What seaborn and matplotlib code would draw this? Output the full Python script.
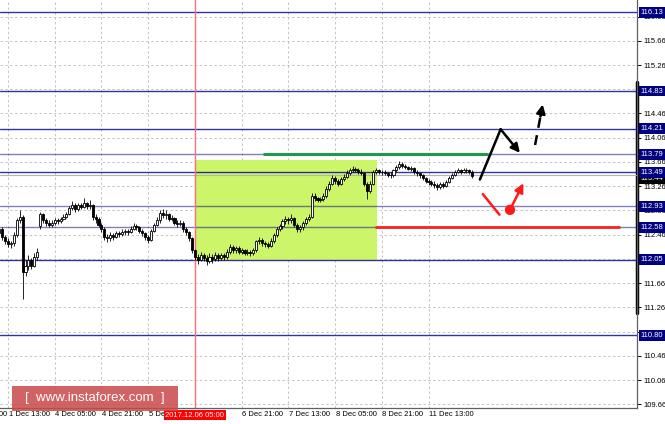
import numpy as np
import pandas as pd
import seaborn as sns
import matplotlib.pyplot as plt
from matplotlib.patches import Rectangle
from matplotlib.transforms import blended_transform_factory

sns.set_style("white")
plt.rcParams['font.family'] = ['Liberation Sans', 'DejaVu Sans']

# hourly USDJPY candles, bar 0 = 1 Dec 13:00 (weekends skipped)
first_bar = -3
first_open = 112.48
gap_opens = {11: 112.60, 131: 113.44}

closes = [
    112.55, 112.42, 112.35, 112.30, 112.32, 112.45, 112.70, 112.75, 111.85, 111.95, 112.05, 111.95, 112.10, 112.18,
    112.80, 112.70, 112.65, 112.62, 112.65, 112.70, 112.68, 112.72, 112.76, 112.80,
    112.90, 112.95, 112.88, 112.95, 112.92, 112.98, 112.93, 112.95, 112.75, 112.72,
    112.62, 112.55, 112.42, 112.40, 112.45, 112.42, 112.48, 112.47, 112.50, 112.52,
    112.50, 112.56, 112.60, 112.58, 112.52, 112.48, 112.42, 112.38, 112.52, 112.62,
    112.70, 112.82, 112.78, 112.80, 112.72, 112.74, 112.66, 112.64, 112.65, 112.55,
    112.50, 112.40, 112.20,
    112.10, 112.05, 112.12, 112.08, 112.02, 112.10, 112.06, 112.12, 112.08, 112.12,
    112.10, 112.18, 112.25, 112.20, 112.24, 112.18, 112.20, 112.16, 112.18, 112.15,
    112.20, 112.35, 112.38, 112.33, 112.30, 112.28, 112.36, 112.45, 112.55, 112.60,
    112.68, 112.72, 112.70, 112.74, 112.62, 112.55, 112.58, 112.65, 112.72, 112.76,
    113.10, 113.06, 113.04, 113.05, 113.10, 113.22, 113.30, 113.40, 113.35, 113.30,
    113.38, 113.42, 113.48, 113.52, 113.55, 113.53, 113.50, 113.48, 113.30, 113.18,
    113.30, 113.50, 113.52,
    113.50, 113.49, 113.47, 113.45, 113.44, 113.52, 113.58, 113.62, 113.60, 113.57,
    113.55, 113.56, 113.50, 113.47, 113.44, 113.40, 113.35, 113.33, 113.30, 113.28,
    113.25, 113.30, 113.27, 113.33, 113.40, 113.45, 113.50, 113.52, 113.50, 113.53,
    113.52, 113.50, 113.43,
]
highs = [
    112.60, 112.58, 112.45, 112.40, 112.36, 112.50, 112.74, 112.86, 112.78, 112.05, 112.12, 112.08, 112.15, 112.24,
    112.84, 112.82, 112.74, 112.70, 112.70, 112.74, 112.74, 112.76, 112.80, 112.84,
    112.94, 113.02, 112.98, 112.99, 112.98, 113.06, 113.00, 113.03, 112.96, 112.80,
    112.76, 112.66, 112.58, 112.47, 112.50, 112.48, 112.52, 112.52, 112.55, 112.56,
    112.56, 112.60, 112.65, 112.64, 112.60, 112.55, 112.50, 112.45, 112.56, 112.66,
    112.76, 112.86, 112.88, 112.86, 112.82, 112.78, 112.76, 112.70, 112.70, 112.68,
    112.58, 112.52, 112.42,
    112.22, 112.14, 112.18, 112.16, 112.12, 112.16, 112.14, 112.17, 112.15, 112.16,
    112.15, 112.22, 112.30, 112.29, 112.28, 112.27, 112.24, 112.23, 112.22, 112.21,
    112.24, 112.38, 112.42, 112.40, 112.36, 112.34, 112.40, 112.48, 112.58, 112.64,
    112.72, 112.77, 112.76, 112.80, 112.76, 112.66, 112.62, 112.68, 112.76, 112.80,
    113.14, 113.14, 113.09, 113.08, 113.14, 113.26, 113.34, 113.44, 113.43, 113.38,
    113.41, 113.46, 113.52, 113.56, 113.59, 113.58, 113.56, 113.54, 113.50, 113.33,
    113.34, 113.53, 113.56,
    113.55, 113.53, 113.52, 113.50, 113.49, 113.55, 113.61, 113.67, 113.66, 113.62,
    113.60, 113.59, 113.57, 113.53, 113.50, 113.46, 113.42, 113.38, 113.36, 113.34,
    113.31, 113.33, 113.33, 113.36, 113.43, 113.48, 113.53, 113.56, 113.55, 113.56,
    113.56, 113.55, 113.52,
]
lows = [
    112.45, 112.38, 112.30, 112.25, 112.24, 112.28, 112.42, 112.66, 111.40, 111.78, 111.88, 111.90, 111.92, 112.05,
    112.56, 112.66, 112.60, 112.58, 112.59, 112.62, 112.64, 112.65, 112.70, 112.74,
    112.78, 112.86, 112.84, 112.85, 112.88, 112.90, 112.88, 112.88, 112.70, 112.66,
    112.58, 112.50, 112.38, 112.34, 112.36, 112.38, 112.40, 112.42, 112.44, 112.46,
    112.46, 112.48, 112.54, 112.54, 112.48, 112.44, 112.38, 112.32, 112.36, 112.50,
    112.60, 112.66, 112.74, 112.72, 112.68, 112.68, 112.62, 112.58, 112.60, 112.50,
    112.46, 112.36, 112.16,
    112.04, 111.98, 112.02, 112.02, 111.96, 111.99, 112.00, 112.02, 112.03, 112.04,
    112.04, 112.06, 112.14, 112.15, 112.16, 112.14, 112.14, 112.12, 112.12, 112.11,
    112.12, 112.18, 112.30, 112.28, 112.26, 112.24, 112.25, 112.33, 112.42, 112.52,
    112.56, 112.64, 112.64, 112.66, 112.58, 112.50, 112.50, 112.54, 112.62, 112.68,
    112.74, 113.02, 113.00, 113.00, 113.02, 113.06, 113.18, 113.28, 113.30, 113.26,
    113.28, 113.34, 113.40, 113.44, 113.49, 113.49, 113.46, 113.44, 113.26, 113.05,
    113.14, 113.28, 113.46,
    113.46, 113.45, 113.44, 113.42, 113.40, 113.42, 113.50, 113.55, 113.56, 113.54,
    113.52, 113.51, 113.46, 113.43, 113.40, 113.36, 113.31, 113.28, 113.26, 113.23,
    113.20, 113.22, 113.23, 113.25, 113.31, 113.38, 113.43, 113.47, 113.46, 113.48,
    113.48, 113.46, 113.40,
]

levels = [116.13, 114.83, 114.21, 113.79, 113.49, 112.93, 112.58, 112.05, 110.80]
strong_levels = [116.13, 114.83, 114.21, 113.49, 112.05, 110.80]
current_price = 113.44

box_bars = [64.3, 126.3]
box_prices = [112.05, 113.70]
green_bars = [87.3, 164.4]
green_price = 113.79
red_bars = [125.7, 209.6]
red_price = 112.58

black_path_bars = [161.6, 168.7, 175.3]
black_path_prices = [113.37, 114.20, 113.81]
dash_bars = [180.5, 183.1]
dash_prices = [113.94, 114.61]
red_stroke_bars = [162.6, 168.3]
red_stroke_prices = [113.13, 112.79]
red_arrow_bars = [171.9, 176.5]
red_arrow_prices = [112.87, 113.31]

price_ticks = [109.66, 110.06, 110.46, 110.86, 111.26, 111.66, 112.06, 112.46, 112.86,
               113.26, 113.66, 114.06, 114.46, 114.86, 115.26, 115.66, 116.06]
hidden_ticks = [110.86, 112.06, 114.86]  # covered by the level boxes
tick_bars = [-16, 0, 16, 32, 48, 64, 80, 96, 112, 128, 144]
tick_texts = ['30 Nov 21:00', '1 Dec 13:00', '4 Dec 05:00', '4 Dec 21:00', '5 Dec 13:00',
              '6 Dec 05:00', '6 Dec 21:00', '7 Dec 13:00', '8 Dec 05:00', '8 Dec 21:00',
              '11 Dec 13:00']
marker_bar = 64
marker_text = '2017.12.06 05:00'

df = pd.DataFrame({'bar': np.arange(first_bar, first_bar + len(closes)),
                   'close': closes, 'high': highs, 'low': lows})
df['open'] = [first_open] + closes[:-1]
for b, o in gap_opens.items():
    df.loc[df.bar == b, 'open'] = o
df['up'] = df.close >= df.open
df['body'] = np.maximum((df.close - df.open).abs(), 0.006)
df['base'] = np.minimum(df.close, df.open)

fig = plt.figure(figsize=(6.65, 4.24), dpi=100)
ax = fig.add_axes([0, 16 / 424, 637 / 665, 408 / 424])
ax.set_xlim(-2.74, 215.4)
ax.set_ylim(109.60, 116.333)

# grid
ax.set_xticks(tick_bars[1:])
ax.set_xticklabels([])
ax.set_yticks(price_ticks)
ax.set_yticklabels(['' if p in hidden_ticks else '%.2f' % p for p in price_ticks])
ax.grid(True, color='#c4c4c4', linestyle=(0, (2.5, 2.5)), linewidth=0.7)
ax.set_axisbelow(True)
ax.yaxis.tick_right()
ax.tick_params(axis='y', labelsize=5.5, length=3, pad=1.5, width=0.7, colors='black')
ax.tick_params(axis='x', length=3, width=0.7, colors='black')
for s in ['left', 'top']:
    ax.spines[s].set_visible(False)
for s in ['right', 'bottom']:
    ax.spines[s].set_color('#606060')
    ax.spines[s].set_linewidth(0.9)
ax.axvline(215.4, ymin=0.233, ymax=0.799, color='black', lw=2.5, clip_on=False)

# zone and levels
ax.fill_between(box_bars, box_prices[0], box_prices[1], color='#ccf56a', lw=0, zorder=1)
ax.axhline(current_price, color='#b4b4b4', lw=0.8, zorder=2)
for p in levels:
    a = 0.8 if p in strong_levels else 0.5
    ax.axhline(p, color='#000080', lw=1.0, alpha=a, zorder=2)
ax.axvline(marker_bar, color='#ff7070', lw=1.0, zorder=2)

# candles
ax.vlines(df.bar, df.low, df.high, color='black', lw=0.6, zorder=4)
up = df[df.up]
dn = df[~df.up]
ax.bar(up.bar, up.body, bottom=up.base, width=0.72, color='white', edgecolor='black', lw=0.6, zorder=5)
ax.bar(dn.bar, dn.body, bottom=dn.base, width=0.72, color='black', edgecolor='black', lw=0.6, zorder=5)

# target lines
ax.plot(green_bars, [green_price] * 2, color='#1e9a4a', lw=2.2, zorder=6, solid_capstyle='butt')
ax.plot(red_bars, [red_price] * 2, color='#ff2020', lw=2.0, zorder=6, solid_capstyle='butt')

# scenario arrows
ax.plot(black_path_bars[:2], black_path_prices[:2], color='black', lw=1.8, zorder=7)
ax.annotate('', xy=(black_path_bars[2], black_path_prices[2]),
            xytext=(black_path_bars[1], black_path_prices[1]),
            arrowprops=dict(arrowstyle='-|>', color='black', lw=1.8, mutation_scale=13,
                            shrinkA=0, shrinkB=0), zorder=7)
ax.plot([dash_bars[0], dash_bars[0] + 0.8 * (dash_bars[1] - dash_bars[0])],
        [dash_prices[0], dash_prices[0] + 0.8 * (dash_prices[1] - dash_prices[0])],
        color='black', lw=1.8, linestyle=(0, (4, 3)), zorder=7)
ax.annotate('', xy=(dash_bars[1], dash_prices[1]),
            xytext=(dash_bars[0] + 0.7 * (dash_bars[1] - dash_bars[0]),
                    dash_prices[0] + 0.7 * (dash_prices[1] - dash_prices[0])),
            arrowprops=dict(arrowstyle='-|>', color='black', lw=1.8, mutation_scale=13,
                            shrinkA=0, shrinkB=0), zorder=7)
ax.plot(red_stroke_bars, red_stroke_prices, color='#ff1a1a', lw=1.8, zorder=7)
ax.annotate('', xy=(red_arrow_bars[1], red_arrow_prices[1]),
            xytext=(red_arrow_bars[0], red_arrow_prices[0]),
            arrowprops=dict(arrowstyle='-|>', color='#ff1a1a', lw=1.8, mutation_scale=13,
                            shrinkA=0, shrinkB=0), zorder=7)
sns.scatterplot(x=[red_arrow_bars[0]], y=[red_arrow_prices[0]], color='#ff1a1a', s=55,
                edgecolor='none', zorder=8, ax=ax, legend=False)

# axis texts
tx = blended_transform_factory(ax.transData, ax.transAxes)
for b, t in zip(tick_bars, tick_texts):
    if b == marker_bar:
        continue
    ax.text(b + 0.2, -0.0155, t, transform=tx, ha='left', va='center', fontsize=5.5,
            color='black', clip_on=False)
ax.text(marker_bar, -0.0172, marker_text, transform=tx, ha='center', va='center', fontsize=5.5,
        color='white', clip_on=False, zorder=12,
        bbox=dict(boxstyle='square,pad=0.2', fc='#ff0000', ec='none'))

ty = blended_transform_factory(ax.transAxes, ax.transData)
ax.text(1.006, current_price - 0.05, '%.2f' % current_price, transform=ty, ha='left', va='center',
        fontsize=5.5, color='white', clip_on=False, zorder=10,
        bbox=dict(boxstyle='square,pad=0.25', fc='black', ec='none'))
for p in levels:
    ax.text(1.006, p, '%.2f' % p, transform=ty, ha='left', va='center', fontsize=5.5,
            color='white', clip_on=False, zorder=11,
            bbox=dict(boxstyle='square,pad=0.25', fc='#000080', ec='none'))

# watermark
fig.add_artist(Rectangle((12 / 665, 13 / 424), 166 / 665, 25 / 424, transform=fig.transFigure,
                         fc='#c84848', ec='none', alpha=0.85, zorder=20))
fig.text(95 / 665, 25.5 / 424, '[  www.instaforex.com  ]', ha='center', va='center',
         fontsize=9.5, color='white', zorder=21)

fig.savefig('out.png', dpi=100)
